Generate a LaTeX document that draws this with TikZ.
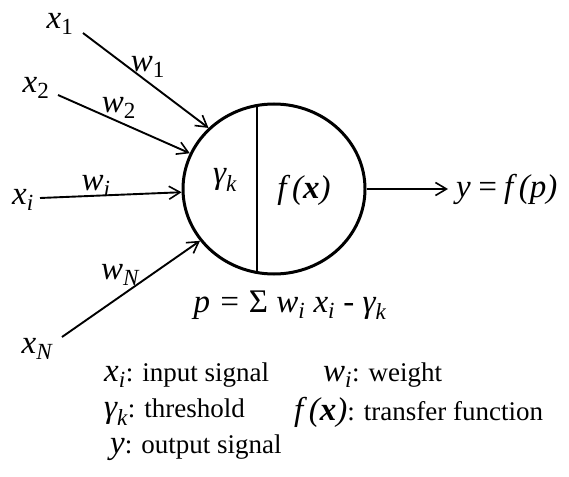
\documentclass[tikz,border=0pt]{standalone}
\usepackage{fontspec}
\setmainfont{Liberation Serif}
\usetikzlibrary{shapes.geometric,arrows.meta}
\newcommand\mysub[1]{\textsubscript{\itshape #1}}
\newcommand\mv{\fontsize{33}{36}\selectfont\itshape}
\newcommand\tx{\fontsize{27}{30}\selectfont\upshape}
\begin{document}
\begin{tikzpicture}[x=1pt,y=-1pt,
  lbl/.style={inner sep=0pt,font=\mv},
  leg/.style={inner sep=0pt,anchor=west,font=\mv},
  inarrow/.style={line width=1.9pt,-{Straight Barb[length=11pt,width=13pt,line width=1.6pt]}},
  neuronshape/.style={draw,line width=3pt,ellipse,minimum width=182pt,minimum height=170pt,inner sep=0pt}]
\useasboundingbox (0,0) rectangle (569,476);
\node[neuronshape] (neuron) at (274,189) {};
\coordinate (dtop) at (257,105);
\coordinate (dbot) at (257,271);
\draw[line width=1.9pt] (dtop) -- (dbot);
\node[lbl] (gk) at (225,180) {γ\mysub{k}};
\node[lbl] (fx) at (304,190) {f\,(\textbf{x})};
% inputs
\coordinate (s1) at (83,33);
\coordinate (s2) at (58,95);
\coordinate (si) at (40,198);
\coordinate (sN) at (62,337);
\draw[inarrow] (s1) -- (neuron.137);
\draw[inarrow] (s2) -- (neuron.157);
\draw[inarrow] (si) -- (neuron.182);
\draw[inarrow] (sN) -- (neuron.215);
\node[lbl] (x1) at (60,24) {x\mysub{\upshape 1}};
\node[lbl] (x2) at (36,88) {x\mysub{\upshape 2}};
\node[lbl] (xi) at (23,200) {x\mysub{i}};
\node[lbl] (xN) at (37,349) {x\mysub{N}};
\node[lbl] (w1) at (148,67) {w\mysub{\upshape 1}};
\node[lbl] (w2) at (119,108) {w\mysub{\upshape 2}};
\node[lbl] (wi) at (96,186) {w\mysub{i}};
\node[lbl] (wN) at (120,275) {w\mysub{N}};
% output
\coordinate (yend) at (448,189);
\draw[inarrow] (neuron.east) -- (yend);
\node[lbl,anchor=west] (yout) at (456,189) {y\,=\,f\,(p)};
\node[lbl] (sum) at (290,305) {p = \upshape Σ \itshape w\mysub{i} x\mysub{i} \upshape- \itshape γ\mysub{k}};
% legend
\node[leg] (l1) at (104,375) {x\mysub{i}{\tx: input signal}};
\node[leg] (l2) at (323,375) {w\mysub{i}{\tx: weight}};
\node[leg] (l3) at (104,412) {γ\mysub{k}{\tx: threshold}};
\node[leg] (l4) at (294,412) {f\,(\textbf{x}){\tx: transfer function}};
\node[leg] (l5) at (110,448) {y{\tx: output signal}};
\end{tikzpicture}
\end{document}
